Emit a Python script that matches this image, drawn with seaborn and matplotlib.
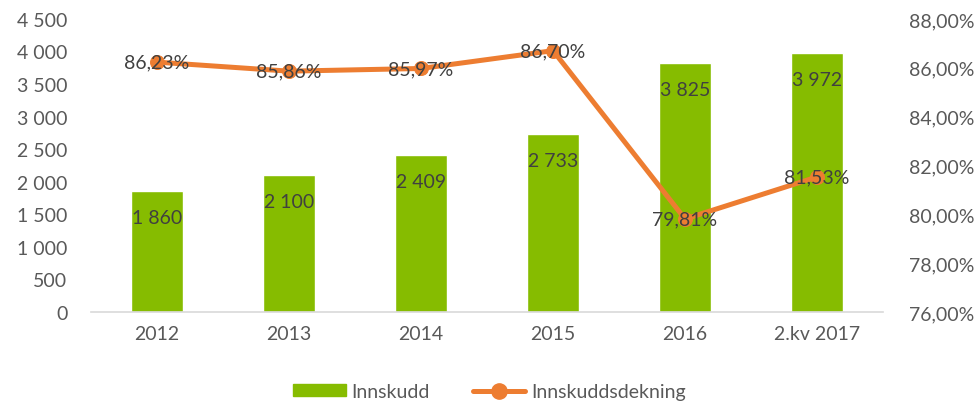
import matplotlib
matplotlib.use("Agg")
import matplotlib.pyplot as plt
import seaborn as sns
import pandas as pd
from matplotlib.patches import Patch
from matplotlib.lines import Line2D

categories = ["2012", "2013", "2014", "2015", "2016", "2.kv 2017"]
innskudd = [1860, 2100, 2409, 2733, 3825, 3972]
dekning = [86.23, 85.86, 85.97, 86.70, 79.81, 81.53]

GREEN = "#86bc00"
ORANGE = "#ed7d31"
TXT = "#595959"
LBL = "#404040"
FS = 14

sns.set_theme(style="white")
plt.rcParams["font.family"] = ["Lato", "DejaVu Sans"]

df = pd.DataFrame({"cat": categories, "innskudd": innskudd, "dekning": dekning})

fig = plt.figure(figsize=(9.79, 4.06), dpi=100)
ax = fig.add_axes([0.093, 0.229, 0.809, 0.722])
sns.barplot(data=df, x="cat", y="innskudd", color=GREEN, width=0.4, ax=ax, saturation=1)
ax.set_ylim(0, 4500)
ax.set_yticks(range(0, 4501, 500))
ax.set_yticklabels([f"{v:,}".replace(",", " ") for v in range(0, 4501, 500)])
ax.set_xlim(-0.5, len(categories) - 0.5)
ax.set_xlabel("")
ax.set_ylabel("")
for s in ["top", "right", "left"]:
    ax.spines[s].set_visible(False)
ax.spines["bottom"].set_color("#d9d9d9")
ax.spines["bottom"].set_linewidth(1.2)
ax.tick_params(axis="both", length=0, labelsize=FS, colors=TXT)
ax.tick_params(axis="x", pad=9)
ax.tick_params(axis="y", pad=17)

for i, v in enumerate(innskudd):
    ax.annotate(f"{v:,}".replace(",", " "), (i, v), xytext=(0, -19), textcoords="offset points",
                ha="center", va="center", fontsize=FS, color=LBL)

ax2 = ax.twinx()
sns.lineplot(x=list(range(len(categories))), y=dekning, ax=ax2, color=ORANGE, linewidth=3.6,
             marker="o", markersize=10, markeredgecolor=ORANGE, legend=False)
ax2.set_ylim(76, 88)
ax2.set_yticks(range(76, 89, 2))
ax2.set_yticklabels([f"{v},00%" for v in range(76, 89, 2)])
for s in ["top", "right", "left", "bottom"]:
    ax2.spines[s].set_visible(False)
ax2.tick_params(axis="y", length=0, labelsize=FS, colors=TXT, pad=19)
ax2.set_xlim(-0.5, len(categories) - 0.5)

for i, v in enumerate(dekning):
    ax2.text(i, v, f"{v:.2f}%".replace(".", ","), ha="center", va="center", fontsize=FS, color=LBL)

handles = [Patch(facecolor=GREEN, edgecolor=GREEN, label="Innskudd"),
           Line2D([0], [0], color=ORANGE, linewidth=3.6, marker="o", markersize=11, label="Innskuddsdekning")]
fig.legend(handles=handles, loc="center", bbox_to_anchor=(0.5, 0.033), ncol=2, frameon=False,
           fontsize=FS, labelcolor=TXT, handlelength=2.7, handleheight=0.6, columnspacing=2.2,
           handletextpad=0.3)

fig.savefig("out.png", dpi=100)
